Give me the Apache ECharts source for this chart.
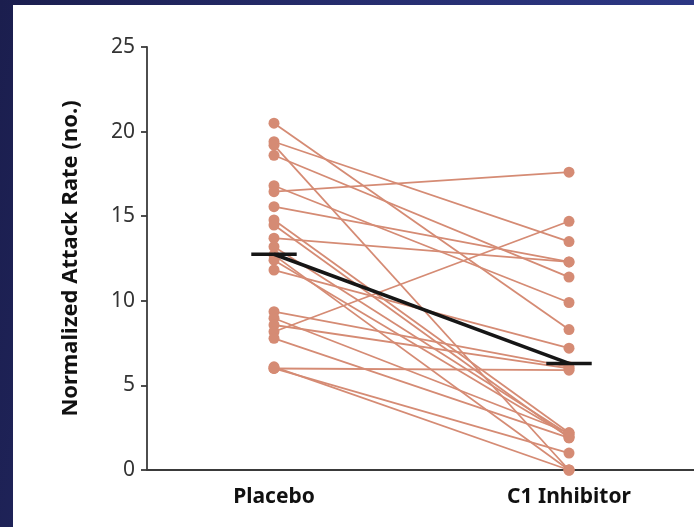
<!DOCTYPE html>
<html>
<head>
<meta charset="utf-8">
<script src="https://cdn.jsdelivr.net/npm/echarts@6/dist/echarts.min.js"></script>
<style>
  html, body { margin: 0; padding: 0; }
  body {
    width: 694px; height: 527px; overflow: hidden; position: relative;
    background: linear-gradient(100deg, #1b1e4e 0%, #262d6e 45%, #2e3a8a 100%);
  }
  #chart {
    position: absolute; left: 13px; top: 5px; width: 681px; height: 522px;
    background: #ffffff;
  }
</style>
</head>
<body>
<div id="chart"></div>
<script>
// Treatment groups (x positions 0 and 1 on a value axis)
const categories = ['Placebo', 'C1 Inhibitor'];

// Normalized attack rate per patient, paired by index
const placebo = [20.5, 19.4, 19.2, 18.6, 16.8, 16.45, 15.56, 14.78, 14.48, 13.7, 13.2,
                 12.7, 12.4, 11.82, 9.36, 8.97, 8.57, 8.17, 7.78, 6.0, 6.0, 6.1];
const c1Inhibitor = [8.3, 13.5, 0, 11.4, 9.9, 17.6, 12.3, 2.2, 1.9, 12.3, 2.1,
                     0, 2.0, 7.2, 6.1, 2.2, 6.0, 14.7, 1.9, 5.9, 1.0, 0];

// Y axis ticks
const yTicks = [0, 5, 10, 15, 20, 25];

const mean = arr => arr.reduce((a, b) => a + b, 0) / arr.length;
const meanPlacebo = mean(placebo);
const meanC1 = mean(c1Inhibitor);

const salmon = '#d58b74';
const meanBarHalf = 0.077;
const fontFam = "'Noto Sans', sans-serif";

const series = placebo.map((p, i) => ({
  type: 'line',
  data: [[0, p], [1, c1Inhibitor[i]]],
  symbol: 'circle',
  symbolSize: 11,
  silent: true,
  lineStyle: { color: salmon, width: 1.8 },
  itemStyle: { color: salmon },
  z: 2
}));

// Group means: connecting line plus a short horizontal bar at each group
series.push({
  type: 'line',
  data: [[0, meanPlacebo], [1, meanC1]],
  symbol: 'none',
  lineStyle: { color: '#161616', width: 3.5 },
  z: 5
});
[[0, meanPlacebo], [1, meanC1]].forEach(([x, m]) => {
  series.push({
    type: 'line',
    data: [[x - meanBarHalf, m], [x + meanBarHalf, m]],
    symbol: 'none',
    lineStyle: { color: '#161616', width: 3.5 },
    z: 5
  });
});

const chart = echarts.init(document.getElementById('chart'), null, { renderer: 'canvas' });
chart.setOption({
  animation: false,
  grid: { left: 134, right: 0, top: 42, bottom: 57 },
  xAxis: {
    type: 'value',
    min: -0.4305,
    max: 1.4237,
    splitLine: { show: false },
    axisLine: { show: true, onZero: false, lineStyle: { color: '#3a3a3a', width: 1.8 } },
    axisTick: { show: false },
    axisLabel: {
      customValues: [0, 1],
      formatter: v => categories[Math.round(v)],
      color: '#111',
      fontFamily: fontFam,
      fontWeight: 'bold',
      fontSize: 21,
      margin: 17
    }
  },
  yAxis: {
    type: 'value',
    min: yTicks[0],
    max: yTicks[yTicks.length - 1],
    interval: 5,
    name: 'Normalized Attack Rate (no.)',
    nameLocation: 'middle',
    nameGap: 65,
    nameRotate: 90,
    nameTextStyle: {
      color: '#111',
      fontFamily: fontFam,
      fontWeight: 'bold',
      fontSize: 22
    },
    splitLine: { show: false },
    axisLine: { show: true, onZero: false, lineStyle: { color: '#3a3a3a', width: 1.8 } },
    axisTick: { show: true, inside: false, length: 6, lineStyle: { color: '#3a3a3a', width: 1.8 } },
    axisLabel: {
      color: '#333',
      fontFamily: fontFam,
      fontSize: 21,
      margin: 12
    }
  },
  series: series
});
</script>
</body>
</html>
